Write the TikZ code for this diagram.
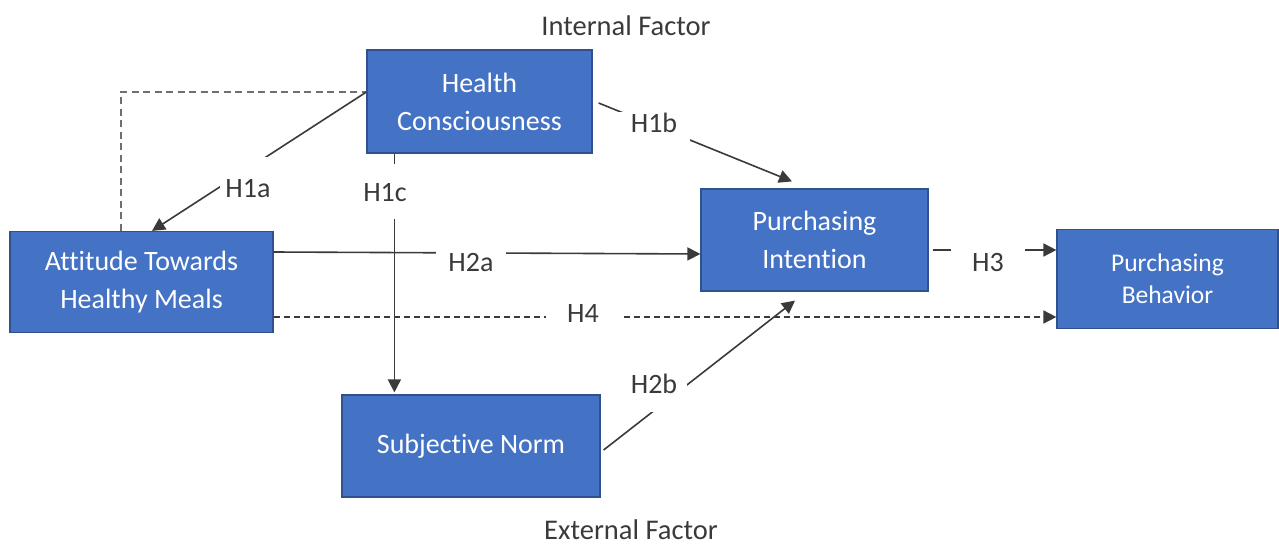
\documentclass[tikz,border=0pt]{standalone}
\usepackage{fontspec}
\setmainfont{Carlito}[Ligatures=NoCommon]
\usetikzlibrary{arrows.meta}

\definecolor{boxfill}{HTML}{4472C4}
\definecolor{boxline}{HTML}{2F528F}
\definecolor{linecol}{HTML}{3A3A3A}
\definecolor{dashcol}{HTML}{6F6F6F}

\tikzset{
  factor/.style={draw=boxline, line width=1.2pt, fill=boxfill, text=white, align=center,
    inner sep=0pt, font=\fontsize{28}{38}\selectfont},
  hyp/.style={fill=white, inner sep=0pt, text=linecol, anchor=base,
    font=\fontsize{28}{34}\selectfont},
  link/.style={draw=linecol, line width=1.6pt, -{Triangle[length=13pt,width=13pt]}},
}

\begin{document}
\begin{tikzpicture}[x=1pt, y=-1pt]
\useasboundingbox (0,0) rectangle (1279,545);

% factor boxes
\node [factor, minimum width=225pt, minimum height=103pt] (hc) at (479.5, 101.5) {Health\\Consciousness};
\node [factor, minimum width=263pt, minimum height=101pt] (att) at (141.5, 282) {Attitude Towards\\Healthy Meals};
\node [factor, minimum width=227pt, minimum height=102pt] (pi) at (814.5, 240) {Purchasing\\Intention};
\node [factor, minimum width=221pt, minimum height=99pt, font=\fontsize{25.5}{32}\selectfont] (pb) at (1167.5, 279) {Purchasing\\Behavior};
\node [factor, minimum width=258pt, minimum height=102pt] (sn) at (471, 446) {Subjective Norm};

\node [text=linecol, inner sep=0pt, font=\fontsize{28.5}{34}\selectfont] (intf) at (626, 26) {Internal Factor};
\node [text=linecol, inner sep=0pt, font=\fontsize{28.5}{34}\selectfont] (extf) at (631, 530) {External Factor};

% hypotheses
\coordinate (hcw) at ([yshift=9.5pt]hc.west);
\coordinate (hcs) at ([xshift=28pt]hc.south west);
\draw [dashcol, line width=1.6pt, dash pattern=on 7pt off 4.5pt] ([xshift=-20.5pt]att.north) |- (hcw);
\draw [link] (hcw) -- ([xshift=10.5pt]att.north);
\draw [link] ([xshift=6pt, yshift=-1.5pt]hc.east) -- ([xshift=-22.5pt, yshift=7pt]pi.north);
\draw [link, shorten >=2pt] (hcs) -- (hcs |- sn.north);
\draw [link] ([yshift=30pt]att.east) -- ([yshift=-14pt]pi.west);
\draw [link, shorten <=4pt] ([yshift=-10pt]pi.east) -- ([yshift=29pt]pb.west);
\draw [link, dash pattern=on 6pt off 4pt] ([yshift=-35pt]att.east) -- ([yshift=-38pt]pb.west);
\draw [link] ([xshift=3pt, yshift=-4pt]sn.east) -- ([xshift=-19.5pt, yshift=-9pt]pi.south);

% labels sit on white patches that break the lines
\node [hyp, text height=41pt, text depth=1pt, inner xsep=5pt] (h1a) at (248, 198) {H1a};
\node [hyp, text height=21pt, text depth=10pt, inner xsep=13pt] (h1b) at (654, 133) {H1b};
\node [hyp, text height=38pt, text depth=17pt, inner xsep=5pt] (h1c) at (385, 202) {H1c};
\node [hyp, text height=22pt, text depth=2pt, inner xsep=12pt] (h2a) at (471, 272) {H2a};
\node [hyp, text height=20pt, text depth=19pt, inner xsep=10pt] (h2b) at (654, 393) {H2b};
\node [hyp, text height=25pt, text depth=2pt, inner xsep=21pt] (h3) at (988, 272) {H3};
\node [hyp, text height=22pt, text depth=2pt, inner xsep=21pt] (h4) at (583, 322) {H4};
\end{tikzpicture}
\end{document}
